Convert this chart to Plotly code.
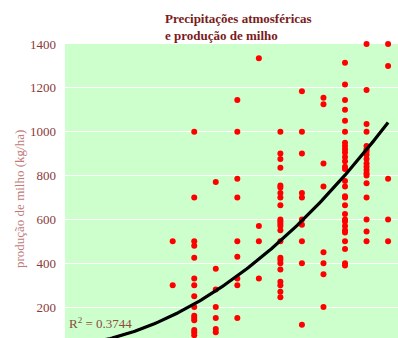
import numpy as np
import plotly.graph_objects as go

# Precipitation classes (x) and corn yield observations (kg/ha) for each class
precip = [5, 6, 7, 8, 9, 10, 11, 12, 13, 14, 15]
yield_by_precip = [
    [500, 300],
    [1000, 700, 500, 480, 425, 330, 300, 250, 200, 160, 150, 140, 95, 85, 72],
    [770, 375, 280, 200, 150, 100, 85],
    [1145, 1000, 785, 700, 500, 430, 330, 300, 150],
    [1335, 570, 500, 330],
    [1000, 900, 875, 835, 755, 745, 720, 700, 665, 600, 590, 580, 570, 550,
     500, 425, 415, 400, 372, 315, 300, 270, 245],
    [1185, 1000, 900, 720, 700, 600, 575, 500, 400, 120],
    [1155, 1125, 855, 750, 450, 400, 350, 200],
    [1315, 1215, 1145, 1100, 1050, 1000, 950, 935, 920, 905, 885, 865, 840,
     830, 775, 750, 705, 700, 665, 625, 600, 590, 570, 550, 540, 500, 465,
     400, 390],
    [1400, 1190, 1035, 1000, 935, 920, 910, 895, 875, 855, 840, 825, 810,
     800, 765, 700, 600, 545, 500],
    [1400, 1300, 785, 600, 500],
]

# Quadratic trend: yield = a*x^2 + b*x + c
trend_coef = [4.0, 8.0, 22.0]
r_squared = "0.3744"

y_ticks = [200, 400, 600, 800, 1000, 1200, 1400]

xs, ys = [], []
for p, vals in zip(precip, yield_by_precip):
    xs.extend([p] * len(vals))
    ys.extend(vals)

x_fit = np.linspace(0, precip[-1], 200)
y_fit = np.polyval(trend_coef, x_fit)

serif = "Times New Roman, Liberation Serif, serif"

fig = go.Figure()
fig.add_trace(go.Scatter(
    x=xs, y=ys, mode="markers",
    marker=dict(color="#FF0000", size=6, line=dict(width=0)),
    cliponaxis=False, showlegend=False,
))
fig.add_trace(go.Scatter(
    x=x_fit, y=y_fit, mode="lines",
    line=dict(color="#000000", width=3.2),
    showlegend=False,
))

plot_w = 398 - 65
plot_h = 338 - 44

fig.update_layout(
    width=398, height=338,
    margin=dict(l=65, r=0, t=44, b=0),
    paper_bgcolor="#FFFFFF",
    plot_bgcolor="#CCFFCC",
    font=dict(family=serif, color="#8B3A3A"),
    xaxis=dict(
        range=[0, 15.46], showgrid=False, zeroline=False,
        showticklabels=False, showline=False, ticks="",
    ),
    yaxis=dict(
        range=[59, 1400], tickvals=y_ticks, showgrid=True,
        gridcolor="#FFFFFF", gridwidth=1.2, zeroline=False,
        tickfont=dict(family=serif, size=13, color="#8B3A3A"),
        ticklabelstandoff=8,
    ),
    annotations=[
        dict(
            text="<b>Precipitações atmosféricas<br>e produção de milho</b>",
            xref="paper", yref="paper",
            x=(163 - 65) / plot_w, y=1 + (44 - 9) / plot_h,
            xanchor="left", yanchor="top", align="left", showarrow=False,
            font=dict(family=serif, size=13, color="#7A1C1C"),
        ),
        dict(
            text="produção de milho (kg/ha)",
            xref="paper", yref="paper",
            x=(19 - 65) / plot_w, y=(338 - 199) / plot_h,
            xanchor="center", yanchor="middle", textangle=-90,
            showarrow=False,
            font=dict(family=serif, size=13, color="#C07A7A"),
        ),
        dict(
            text="R<sup>2</sup> = " + r_squared,
            xref="paper", yref="paper", x=0.006, y=0.052,
            xanchor="left", yanchor="middle", showarrow=False,
            font=dict(family=serif, size=13, color="#8B4C3C"),
        ),
    ],
)

fig.write_html("out.html")
